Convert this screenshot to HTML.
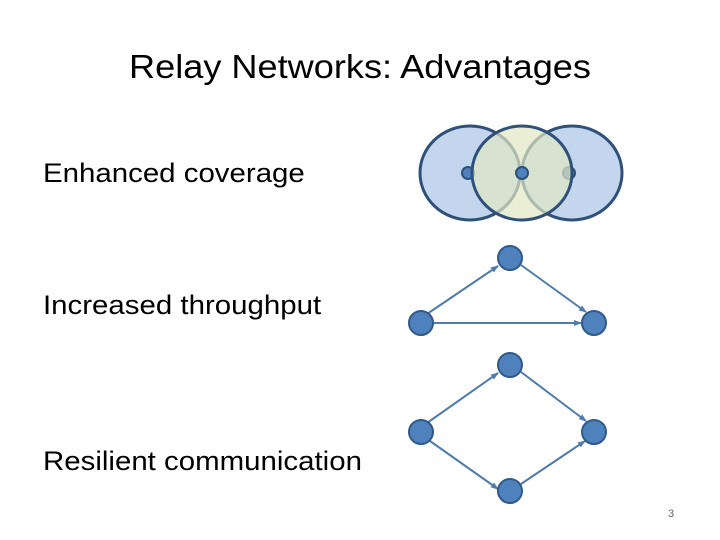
<!DOCTYPE html>
<html><head><style>
body{margin:0;width:720px;height:540px;background:#fff;position:relative;font-family:"Liberation Sans",sans-serif;overflow:hidden}
.t{position:absolute;white-space:nowrap;color:#000;font-family:"Liberation Sans",sans-serif}
.b{font-size:27px;transform:scaleX(1.09);transform-origin:left center}
</style></head><body>
<div class="t" style="left:0;width:720px;text-align:center;top:48px;font-size:33px;transform:scaleX(1.095);transform-origin:center">Relay Networks: Advantages</div>
<div class="t b" style="left:43px;top:158px">Enhanced coverage</div>
<div class="t b" style="left:43px;top:290px">Increased throughput</div>
<div class="t b" style="left:43px;top:446px">Resilient communication</div>
<div class="t" style="left:668px;top:508px;font-size:11px;color:#666">3</div>
<svg width="720" height="540" style="position:absolute;left:0;top:0">
<defs><marker id="a" markerWidth="8" markerHeight="8" refX="7" refY="4" orient="auto" markerUnits="userSpaceOnUse"><path d="M0,1 L8,4 L0,7z" fill="#4f7bad"/></marker></defs>
<g stroke="#2f5179" stroke-width="3">
<ellipse cx="470" cy="173" rx="50" ry="47" fill="#c4d5ee"/>
<ellipse cx="572" cy="173" rx="50" ry="47" fill="#c4d5ee"/>
<circle cx="468" cy="173" r="6" fill="#4f81bd" stroke-width="2"/>
<circle cx="569" cy="173" r="6" fill="#4f81bd" stroke-width="2"/>
</g>
<ellipse cx="522" cy="173" rx="50" ry="47" fill="#dfe7c3" fill-opacity="0.7" stroke="none"/>
<ellipse cx="522" cy="173" rx="50" ry="47" fill="none" stroke="#2f5179" stroke-width="3"/>
<circle cx="522" cy="173" r="6" fill="#4f81bd" stroke="#2f5179" stroke-width="2"/>
<g stroke="#4f7bad" stroke-width="2" marker-end="url(#a)">
<line x1="427" y1="314" x2="498" y2="266"/>
<line x1="521" y1="265" x2="586" y2="312"/>
<line x1="434" y1="323" x2="581" y2="323"/>
<line x1="427" y1="423" x2="498" y2="373"/>
<line x1="521" y1="372" x2="586" y2="421"/>
<line x1="430" y1="441" x2="498" y2="489"/>
<line x1="521" y1="484" x2="585" y2="441"/>
</g>
<g fill="#4f81bd" stroke="#2f5a8a" stroke-width="2">
<circle cx="510" cy="258" r="12"/><circle cx="421" cy="323" r="12"/><circle cx="594" cy="323" r="12"/>
<circle cx="510" cy="365" r="12"/><circle cx="421" cy="432" r="12"/><circle cx="594" cy="432" r="12"/><circle cx="510" cy="491" r="12"/>
</g>
</svg>
</body></html>
